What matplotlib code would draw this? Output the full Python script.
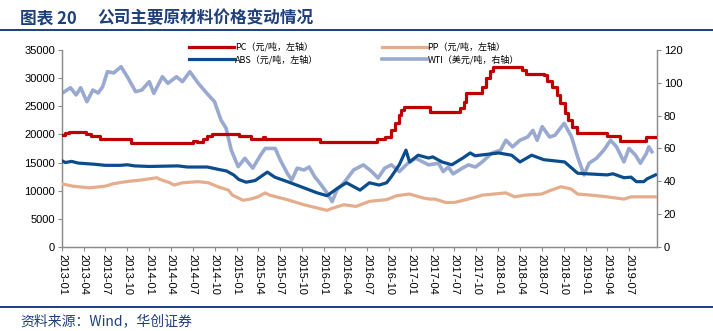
import matplotlib
matplotlib.use("Agg")
import matplotlib.pyplot as plt
import matplotlib.dates as mdates
import pandas as pd

plt.rcParams['font.family'] = ['Liberation Sans', 'Noto Sans CJK SC', 'DejaVu Sans']

# ---------------- data ----------------
pc_dates = ["2013-01-01", "2013-01-15", "2013-02-01", "2013-04-10", "2013-05-01", "2013-06-10",
            "2013-10-15", "2014-07-01", "2014-07-20", "2014-08-15", "2014-09-01", "2014-09-20",
            "2015-01-10", "2015-03-01", "2015-04-20", "2015-05-01", "2015-12-15", "2016-08-10",
            "2016-09-15", "2016-10-10", "2016-10-25", "2016-11-10", "2016-11-20", "2016-12-01",
            "2017-03-20", "2017-07-25", "2017-08-10", "2017-08-20", "2017-10-25", "2017-11-10",
            "2017-11-25", "2017-12-10", "2018-04-10", "2018-04-25", "2018-07-10", "2018-07-25",
            "2018-08-15", "2018-09-01", "2018-09-15", "2018-10-05", "2018-10-20", "2018-11-05",
            "2018-11-25", "2019-04-01", "2019-05-25", "2019-09-10", "2019-10-20"]
pc_values = [19900, 20200, 20500, 20000, 19800, 19100,
             18500, 18900, 18700, 19200, 19700, 20100,
             19800, 19200, 19500, 19200, 18650, 19200,
             19500, 20800, 22000, 23500, 24300, 24900,
             24000, 24700, 25800, 27400, 28500, 30000,
             31200, 32000, 31500, 30800, 30500, 29500,
             28400, 27000, 25500, 23800, 22500, 21300,
             20300, 19700, 18800, 19500, 19500]

pp_dates = ["2013-01-01", "2013-02-15", "2013-04-25", "2013-07-01", "2013-08-01", "2013-09-25",
            "2013-12-01", "2014-02-01", "2014-02-15", "2014-03-28", "2014-04-15", "2014-05-20",
            "2014-07-25", "2014-09-05", "2014-10-15", "2014-11-28", "2014-12-15", "2015-01-28",
            "2015-02-28", "2015-04-01", "2015-05-01", "2015-05-20", "2015-08-01", "2015-10-10",
            "2016-01-15", "2016-02-01", "2016-03-25", "2016-05-15", "2016-07-10", "2016-09-20",
            "2016-11-01", "2016-12-25", "2017-02-20", "2017-03-20", "2017-04-10", "2017-05-25",
            "2017-07-01", "2017-09-15", "2017-10-25", "2018-02-01", "2018-03-10", "2018-04-20",
            "2018-07-01", "2018-08-10", "2018-09-20", "2018-11-01", "2018-11-28", "2019-01-25",
            "2019-04-01", "2019-06-10", "2019-07-10", "2019-10-20"]
pp_values = [11200, 10800, 10500, 10800, 11200, 11600,
             11900, 12300, 12000, 11400, 11000, 11400,
             11600, 11400, 10700, 10100, 9200, 8300,
             8500, 8900, 9600, 9200, 8400, 7500,
             6500, 6800, 7500, 7200, 8100, 8400,
             9100, 9400, 8700, 8500, 8500, 7900,
             7900, 8700, 9200, 9600, 8900, 9200,
             9400, 10100, 10700, 10300, 9400, 9200,
             8900, 8500, 8900, 8900]

abs_dates = ["2013-01-01", "2013-01-15", "2013-02-10", "2013-03-10", "2013-05-15", "2013-07-01",
             "2013-09-01", "2013-10-01", "2013-11-01", "2014-01-01", "2014-05-01", "2014-06-10",
             "2014-09-01", "2014-10-15", "2014-11-20", "2014-12-20", "2015-01-10", "2015-02-10",
             "2015-03-20", "2015-05-10", "2015-06-10", "2015-08-15", "2015-10-10", "2015-12-05",
             "2016-01-15", "2016-03-01", "2016-04-05", "2016-06-01", "2016-07-10", "2016-08-20",
             "2016-09-20", "2016-10-10", "2016-11-12", "2016-12-10", "2016-12-25", "2017-01-30",
             "2017-03-15", "2017-04-01", "2017-05-10", "2017-06-20", "2017-08-05", "2017-09-05",
             "2017-09-25", "2018-01-01", "2018-02-25", "2018-04-01", "2018-05-20", "2018-07-10",
             "2018-10-05", "2018-11-28", "2019-01-05", "2019-04-01", "2019-04-25", "2019-06-10",
             "2019-07-10", "2019-08-01", "2019-09-01", "2019-09-15", "2019-10-20"]
abs_values = [15300, 15000, 15200, 14900, 14700, 14500,
              14500, 14600, 14400, 14300, 14400, 14200,
              14200, 13800, 13500, 12800, 12000, 11500,
              11800, 13300, 12400, 11400, 10500, 9600,
              9100, 10500, 11400, 10100, 11400, 11000,
              11400, 12500, 14600, 17200, 15100, 16300,
              15800, 16000, 15100, 14600, 15800, 16700,
              16200, 16700, 16300, 15100, 16300, 15500,
              15100, 13100, 13000, 12800, 13000, 12300,
              12400, 11600, 11600, 12100, 12800]

wti_dates = ["2013-01-01", "2013-02-05", "2013-03-01", "2013-03-20", "2013-04-15", "2013-05-10",
             "2013-06-01", "2013-06-20", "2013-07-10", "2013-08-05", "2013-09-05", "2013-10-01",
             "2013-11-05", "2013-12-01", "2014-01-01", "2014-01-20", "2014-02-25", "2014-03-20",
             "2014-04-25", "2014-05-20", "2014-06-20", "2014-07-25", "2014-09-05", "2014-10-01",
             "2014-10-28", "2014-11-18", "2014-12-10", "2015-01-08", "2015-02-05", "2015-03-10",
             "2015-04-12", "2015-05-01", "2015-06-12", "2015-07-03", "2015-08-01", "2015-08-20",
             "2015-09-12", "2015-10-10", "2015-11-01", "2015-11-25", "2015-12-15", "2016-01-15",
             "2016-02-05", "2016-02-25", "2016-03-25", "2016-05-05", "2016-06-15", "2016-07-20",
             "2016-08-15", "2016-09-12", "2016-10-10", "2016-11-12", "2016-12-18", "2017-01-20",
             "2017-03-15", "2017-04-25", "2017-05-15", "2017-06-05", "2017-06-25", "2017-08-03",
             "2017-08-28", "2017-09-27", "2017-10-25", "2017-12-05", "2018-01-10", "2018-02-01",
             "2018-03-01", "2018-04-01", "2018-05-03", "2018-05-25", "2018-06-12", "2018-07-03",
             "2018-08-03", "2018-08-25", "2018-10-03", "2018-11-03", "2018-11-28", "2018-12-25",
             "2019-01-15", "2019-02-15", "2019-03-18", "2019-04-15", "2019-05-10", "2019-06-10",
             "2019-07-01", "2019-07-28", "2019-08-18", "2019-09-12", "2019-09-22", "2019-10-05"]
wti_values = [93.6, 97.0, 92.6, 97.0, 88.5, 95.6,
              93.8, 97.6, 106.8, 106.0, 109.8, 103.7,
              94.6, 95.6, 100.7, 93.6, 103.7, 99.7,
              103.7, 100.7, 106.8, 99.7, 92.6, 88.5,
              77.3, 72.5, 59.0, 48.9, 54.0, 48.0,
              56.0, 60.0, 60.0, 53.0, 45.0, 40.8,
              48.0, 46.9, 48.7, 42.6, 39.0, 32.9,
              27.6, 34.7, 39.0, 46.9, 50.0, 45.9,
              42.0, 48.0, 50.0, 45.9, 51.0, 54.0,
              50.0, 51.0, 45.9, 48.7, 44.5, 48.0,
              50.0, 48.7, 51.8, 57.2, 59.0, 65.0,
              61.0, 65.0, 67.0, 71.0, 65.0, 73.3,
              67.0, 68.0, 75.3, 67.0, 55.0, 43.9,
              51.0, 54.0, 59.0, 65.0, 61.0, 51.8,
              60.0, 56.0, 51.0, 57.0, 61.0, 58.0]

x_tick_labels = pd.date_range("2013-01-01", "2019-07-01", freq="QS")
left_ticks = [0, 5000, 10000, 15000, 20000, 25000, 30000, 35000]
right_ticks = [0, 20, 40, 60, 80, 100, 120]

# ---------------- style ----------------
C_PC = "#C00000"
C_ABS = "#0B4C8C"
C_PP = "#E5AD8C"
C_WTI = "#9AA9CF"
NAVY = "#1F3F7A"
GREY = "#8C8C8C"

fig = plt.figure(figsize=(7.13, 3.31), dpi=100)
ax = fig.add_axes([0.087, 0.254, 0.834, 0.595])
ax2 = ax.twinx()

ax.set_zorder(ax2.get_zorder() + 1)
ax.patch.set_visible(False)

lw = 2.3
lp, = ax.plot(pd.to_datetime(pc_dates), pc_values, color=C_PC, lw=lw, drawstyle="steps-post",
              label="PC（元/吨，左轴）", zorder=4)
lpp, = ax.plot(pd.to_datetime(pp_dates), pp_values, color=C_PP, lw=lw, label="PP（元/吨，左轴）", zorder=3)
la, = ax.plot(pd.to_datetime(abs_dates), abs_values, color=C_ABS, lw=lw, label="ABS（元/吨，左轴）", zorder=3)
lw2, = ax2.plot(pd.to_datetime(wti_dates), wti_values, color=C_WTI, lw=2.6, label="WTI（美元/吨，右轴）")

ax.set_xlim(pd.Timestamp("2013-01-01"), pd.Timestamp("2019-10-25"))
ax.set_ylim(0, 35000)
ax2.set_ylim(0, 120)
ax.set_yticks(left_ticks)
ax2.set_yticks(right_ticks)
ax.set_xticks(x_tick_labels)
ax.set_xticklabels([d.strftime("%Y-%m") for d in x_tick_labels], rotation=-90, fontsize=8)
ax.tick_params(axis="y", labelsize=8, length=3, color=GREY, pad=2)
ax.tick_params(axis="x", length=3, color=GREY, pad=2)
ax2.tick_params(axis="y", labelsize=8, length=3, color=GREY, pad=2)

for a in (ax, ax2):
    a.spines["top"].set_visible(False)
    for s in ("left", "right", "bottom"):
        a.spines[s].set_color(GREY)
        a.spines[s].set_linewidth(0.9)

ax.legend(handles=[lp, la, lpp, lw2], ncol=2, loc="upper left", bbox_to_anchor=(0.2, 1.08),
          frameon=False, prop={"family": ["Noto Sans CJK SC"], "size": 6.5},
          handlelength=5.0, handletextpad=0.1, columnspacing=7.0, labelspacing=0.35)

# title and decorations
fig.text(0.028, 0.945, "图表 20", fontsize=12, fontweight="bold", color=NAVY,
         family=["Noto Sans CJK SC"], va="center")
fig.text(0.136, 0.945, "公司主要原材料价格变动情况", fontsize=12, fontweight="bold", color=NAVY,
         family=["Noto Sans CJK SC"], va="center")
fig.add_artist(plt.Line2D([0.0, 1.0], [0.91, 0.91], color=NAVY, lw=1.4, transform=fig.transFigure))
fig.add_artist(plt.Line2D([0.0, 1.0], [0.073, 0.073], color=NAVY, lw=1.4, transform=fig.transFigure))
fig.text(0.028, 0.03, "资料来源：Wind，华创证券", fontsize=10, color=NAVY, style="italic",
         family=["Noto Sans CJK SC"], va="center")

fig.savefig("out.png", dpi=100)
